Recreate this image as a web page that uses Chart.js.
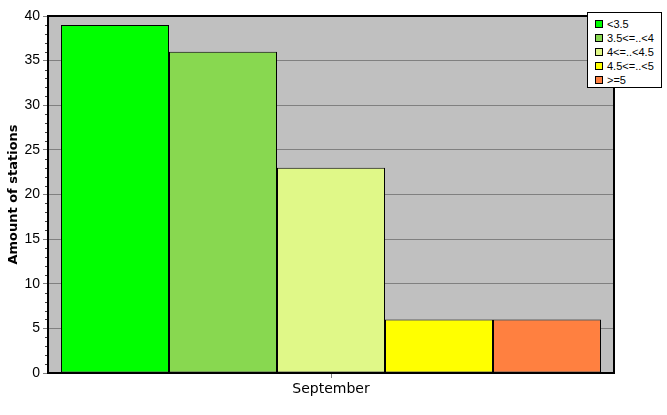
<!DOCTYPE html>
<html>
<head>
<meta charset="utf-8">
<script src="https://cdn.jsdelivr.net/npm/chart.js@4/dist/chart.umd.min.js"></script>
<style>
  body { margin: 0; background: #fff; }
  #wrap { position: relative; width: 667px; height: 415px; }
  #legend {
    position: absolute; left: 587px; top: 12px; width: 75px; height: 76px;
    border: 1px solid #000; background: #fff;
    font: 11px "Liberation Sans", Arial, sans-serif; color: #000;
    box-sizing: border-box; padding: 4px 0 0 7px;
  }
  #legend div { height: 14px; line-height: 14px; white-space: nowrap; }
  #legend span {
    display: inline-block; width: 6px; height: 6px; border: 1px solid #000;
    margin-right: 4px;
  }
</style>
</head>
<body>
<div id="wrap">
  <canvas id="c" width="667" height="415"></canvas>
  <div id="legend"></div>
</div>
<script>
var categories = ["September"];
var seriesNames = ["<3.5", "3.5<=..<4", "4<=..<4.5", "4.5<=..<5", ">=5"];
var seriesValues = [39, 36, 23, 6, 6];
var seriesColors = ["#00ff00", "#88d850", "#e0f888", "#ffff00", "#ff8040"];
var yTitle = "Amount of stations";

var datasets = seriesNames.map(function(name, i) {
    return {
        label: name,
        data: [seriesValues[i]],
        backgroundColor: seriesColors[i],
        borderColor: "#000",
        borderWidth: 1,
        borderSkipped: false,
        categoryPercentage: 0.954,
        barPercentage: 1
    };
});

// legend as html
var legendHtml = "";
seriesNames.forEach(function(name, i) {
    var t = name.replace(/</g, "&lt;").replace(/>/g, "&gt;");
    legendHtml += '<div><span style="background:' + seriesColors[i] + '"></span>' + t + '</div>';
});
document.getElementById("legend").innerHTML = legendHtml;

var plotFrame = {
    id: "plotFrame",
    beforeDraw: function(chart) {
        var a = chart.chartArea, ctx = chart.ctx;
        ctx.save();
        ctx.fillStyle = "#c0c0c0";
        ctx.fillRect(a.left, a.top, a.right - a.left, a.bottom - a.top);
        ctx.restore();
    },
    afterDraw: function(chart) {
        var a = chart.chartArea, ctx = chart.ctx, y = chart.scales.y;
        ctx.save();
        // minor ticks
        ctx.strokeStyle = "#404040";
        ctx.lineWidth = 1;
        for (var v = 0; v <= 40; v++) {
            if (v % 5 === 0) continue;
            var py = Math.round(y.getPixelForValue(v)) + 0.5;
            ctx.beginPath();
            ctx.moveTo(a.left - 3, py);
            ctx.lineTo(a.left - 1, py);
            ctx.stroke();
        }
        ctx.strokeStyle = "#000";
        ctx.lineWidth = 2;
        ctx.strokeRect(a.left, a.top, a.right - a.left, a.bottom - a.top);
        // y axis title
        ctx.translate(14, (a.top + a.bottom) / 2);
        ctx.rotate(-Math.PI / 2);
        ctx.fillStyle = "#000";
        ctx.font = "bold 13px 'DejaVu Sans', Verdana, sans-serif";
        ctx.textAlign = "center";
        ctx.textBaseline = "middle";
        ctx.fillText(yTitle, 0, 0);
        ctx.restore();
    }
};

new Chart(document.getElementById("c"), {
    type: "bar",
    data: { labels: categories, datasets: datasets },
    options: {
        responsive: false,
        animation: false,
        layout: { padding: { left: 0, top: 16, right: 53, bottom: 0 } },
        plugins: { legend: { display: false }, tooltip: { enabled: false } },
        scales: {
            x: {
                afterFit: function(s) { s.height = 42; },
                grid: { display: true, drawOnChartArea: false, color: "#808080", tickLength: 5, offset: false },
                border: { display: false },
                ticks: { color: "#000", font: { family: "'DejaVu Sans', Verdana, sans-serif", size: 14 }, padding: 3 }
            },
            y: {
                min: 0, max: 40,
                afterFit: function(s) { s.width = 48; },
                grid: { color: "#808080", tickLength: 5 },
                border: { display: false },
                ticks: { stepSize: 5, color: "#000", font: { family: "'Liberation Sans', Arial, sans-serif", size: 14 }, padding: 3 }
            }
        }
    },
    plugins: [plotFrame]
});
</script>
</body>
</html>
